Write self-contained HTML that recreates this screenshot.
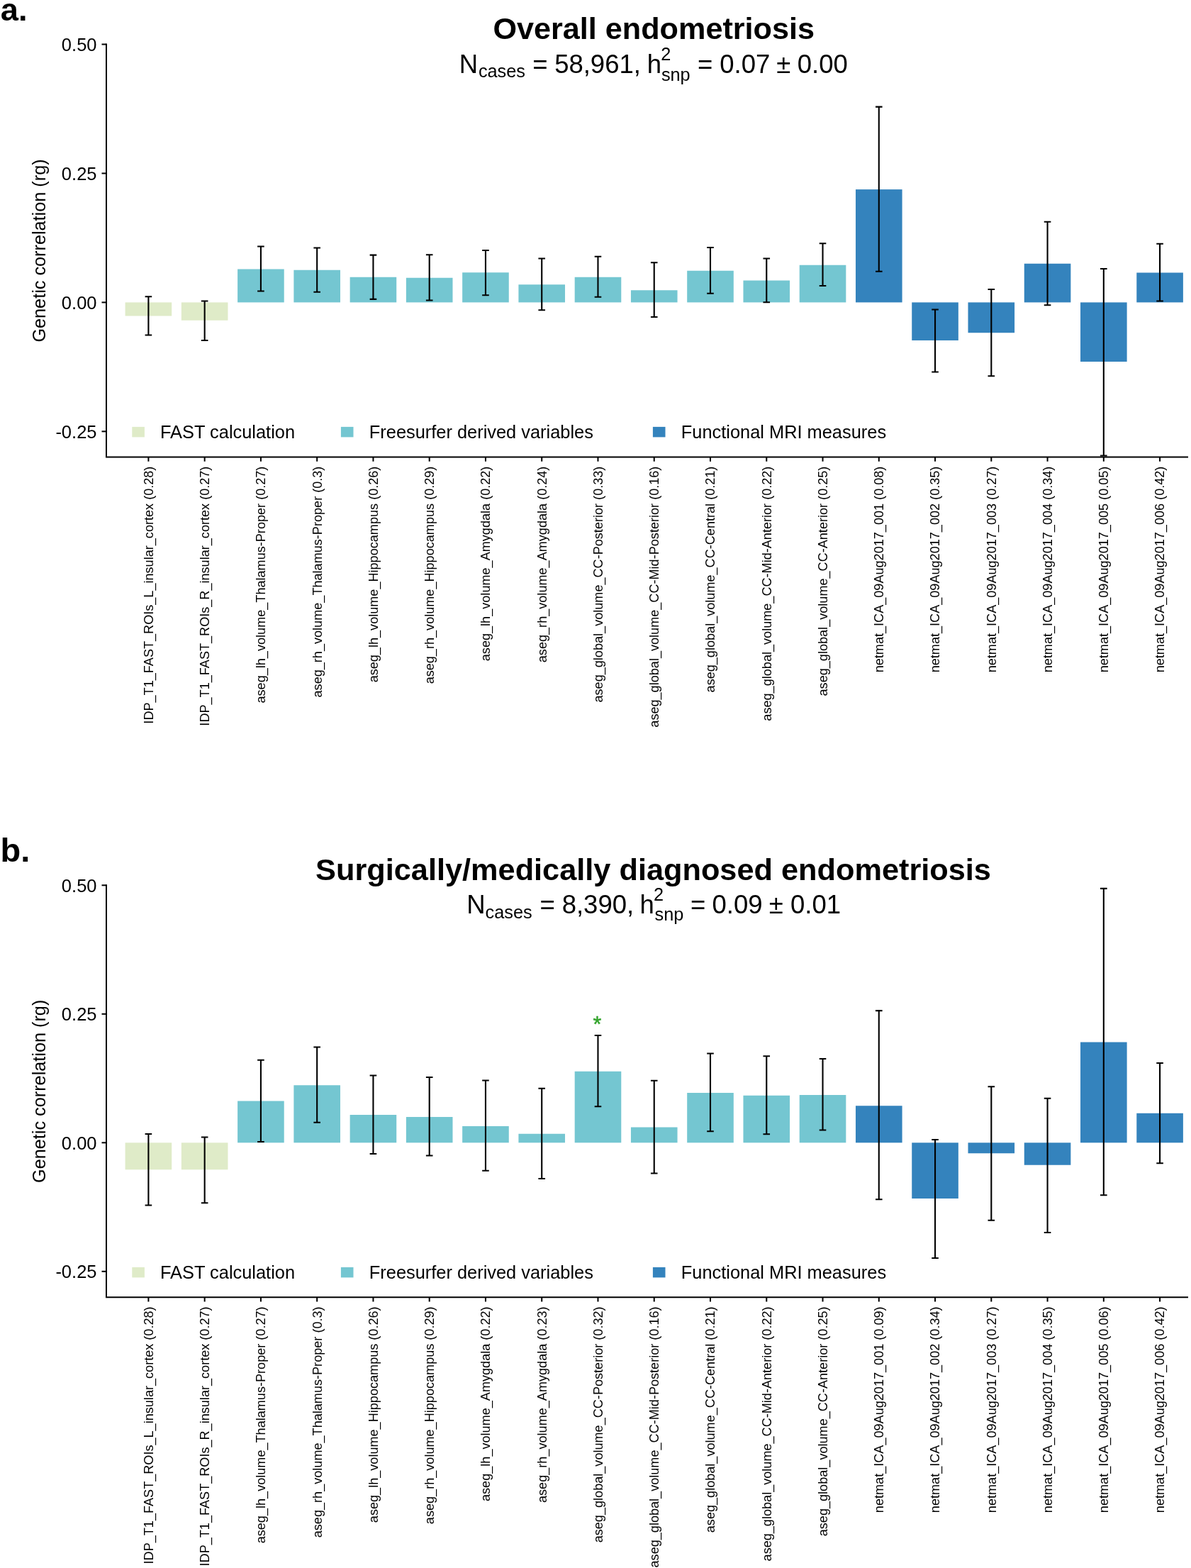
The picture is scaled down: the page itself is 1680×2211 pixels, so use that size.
<!DOCTYPE html>
<html><head><meta charset="utf-8"><title>Genetic correlation</title>
<style>html,body{margin:0;padding:0;background:#fff;}svg{display:block;}</style>
</head><body>
<svg width="1680" height="2211" viewBox="0 0 1680 2211" font-family='"Liberation Sans", Arial, Helvetica, sans-serif'>
<rect width="1680" height="2211" fill="#fff"/>
<rect x="176.60" y="426.40" width="65.60" height="19.10" fill="#DFEBC8"/>
<rect x="255.86" y="426.40" width="65.60" height="25.35" fill="#DFEBC8"/>
<rect x="335.12" y="379.50" width="65.60" height="46.90" fill="#74C6D1"/>
<rect x="414.38" y="380.75" width="65.60" height="45.65" fill="#74C6D1"/>
<rect x="493.64" y="390.75" width="65.60" height="35.65" fill="#74C6D1"/>
<rect x="572.90" y="391.75" width="65.60" height="34.65" fill="#74C6D1"/>
<rect x="652.16" y="384.25" width="65.60" height="42.15" fill="#74C6D1"/>
<rect x="731.42" y="401.25" width="65.60" height="25.15" fill="#74C6D1"/>
<rect x="810.68" y="390.75" width="65.60" height="35.65" fill="#74C6D1"/>
<rect x="889.94" y="409.25" width="65.60" height="17.15" fill="#74C6D1"/>
<rect x="969.20" y="381.75" width="65.60" height="44.65" fill="#74C6D1"/>
<rect x="1048.46" y="395.50" width="65.60" height="30.90" fill="#74C6D1"/>
<rect x="1127.72" y="373.75" width="65.60" height="52.65" fill="#74C6D1"/>
<rect x="1206.98" y="267.10" width="65.60" height="159.30" fill="#3483BD"/>
<rect x="1286.24" y="426.40" width="65.60" height="53.60" fill="#3483BD"/>
<rect x="1365.50" y="426.40" width="65.60" height="42.85" fill="#3483BD"/>
<rect x="1444.76" y="371.75" width="65.60" height="54.65" fill="#3483BD"/>
<rect x="1524.02" y="426.40" width="65.60" height="83.60" fill="#3483BD"/>
<rect x="1603.28" y="384.50" width="65.60" height="41.90" fill="#3483BD"/>
<path d="M209.40 418.25V472.50M204.60 418.25H214.20M204.60 472.50H214.20" stroke="#000" stroke-width="2.1" fill="none"/>
<path d="M288.66 424.50V480.00M283.86 424.50H293.46M283.86 480.00H293.46" stroke="#000" stroke-width="2.1" fill="none"/>
<path d="M367.92 347.50V410.50M363.12 347.50H372.72M363.12 410.50H372.72" stroke="#000" stroke-width="2.1" fill="none"/>
<path d="M447.18 349.50V411.75M442.38 349.50H451.98M442.38 411.75H451.98" stroke="#000" stroke-width="2.1" fill="none"/>
<path d="M526.44 359.60V421.90M521.64 359.60H531.24M521.64 421.90H531.24" stroke="#000" stroke-width="2.1" fill="none"/>
<path d="M605.70 359.25V423.50M600.90 359.25H610.50M600.90 423.50H610.50" stroke="#000" stroke-width="2.1" fill="none"/>
<path d="M684.96 353.00V416.25M680.16 353.00H689.76M680.16 416.25H689.76" stroke="#000" stroke-width="2.1" fill="none"/>
<path d="M764.22 364.50V437.25M759.42 364.50H769.02M759.42 437.25H769.02" stroke="#000" stroke-width="2.1" fill="none"/>
<path d="M843.48 361.75V418.75M838.68 361.75H848.28M838.68 418.75H848.28" stroke="#000" stroke-width="2.1" fill="none"/>
<path d="M922.74 370.25V447.00M917.94 370.25H927.54M917.94 447.00H927.54" stroke="#000" stroke-width="2.1" fill="none"/>
<path d="M1002.00 349.00V413.75M997.20 349.00H1006.80M997.20 413.75H1006.80" stroke="#000" stroke-width="2.1" fill="none"/>
<path d="M1081.26 364.50V426.25M1076.46 364.50H1086.06M1076.46 426.25H1086.06" stroke="#000" stroke-width="2.1" fill="none"/>
<path d="M1160.52 343.25V403.00M1155.72 343.25H1165.32M1155.72 403.00H1165.32" stroke="#000" stroke-width="2.1" fill="none"/>
<path d="M1239.78 150.60V382.75M1234.98 150.60H1244.58M1234.98 382.75H1244.58" stroke="#000" stroke-width="2.1" fill="none"/>
<path d="M1319.04 436.50V524.50M1314.24 436.50H1323.84M1314.24 524.50H1323.84" stroke="#000" stroke-width="2.1" fill="none"/>
<path d="M1398.30 408.00V530.25M1393.50 408.00H1403.10M1393.50 530.25H1403.10" stroke="#000" stroke-width="2.1" fill="none"/>
<path d="M1477.56 312.75V430.25M1472.76 312.75H1482.36M1472.76 430.25H1482.36" stroke="#000" stroke-width="2.1" fill="none"/>
<path d="M1556.82 379.00V642.50M1552.02 379.00H1561.62M1552.02 642.50H1561.62" stroke="#000" stroke-width="2.1" fill="none"/>
<path d="M1636.08 343.75V424.50M1631.28 343.75H1640.88M1631.28 424.50H1640.88" stroke="#000" stroke-width="2.1" fill="none"/>
<path d="M150 61.50V644.50M149 644.50H1676" stroke="#000" stroke-width="2" fill="none"/>
<path d="M143.5 62.50H150" stroke="#000" stroke-width="2"/>
<text x="136.5" y="71.80" font-size="25.5" text-anchor="end">0.50</text>
<path d="M143.5 244.45H150" stroke="#000" stroke-width="2"/>
<text x="136.5" y="253.75" font-size="25.5" text-anchor="end">0.25</text>
<path d="M143.5 426.40H150" stroke="#000" stroke-width="2"/>
<text x="136.5" y="435.70" font-size="25.5" text-anchor="end">0.00</text>
<path d="M143.5 608.35H150" stroke="#000" stroke-width="2"/>
<text x="136.5" y="617.65" font-size="25.5" text-anchor="end">-0.25</text>
<path d="M209.40 644.50V650.70" stroke="#000" stroke-width="2"/>
<text transform="translate(215.80,657.60) rotate(-90)" font-size="18.1" text-anchor="end">IDP_T1_FAST_ROIs_L_insular_cortex (0.28)</text>
<path d="M288.66 644.50V650.70" stroke="#000" stroke-width="2"/>
<text transform="translate(295.06,657.60) rotate(-90)" font-size="18.1" text-anchor="end">IDP_T1_FAST_ROIs_R_insular_cortex (0.27)</text>
<path d="M367.92 644.50V650.70" stroke="#000" stroke-width="2"/>
<text transform="translate(374.32,657.60) rotate(-90)" font-size="18.1" text-anchor="end">aseg_lh_volume_Thalamus-Proper (0.27)</text>
<path d="M447.18 644.50V650.70" stroke="#000" stroke-width="2"/>
<text transform="translate(453.58,657.60) rotate(-90)" font-size="18.1" text-anchor="end">aseg_rh_volume_Thalamus-Proper (0.3)</text>
<path d="M526.44 644.50V650.70" stroke="#000" stroke-width="2"/>
<text transform="translate(532.84,657.60) rotate(-90)" font-size="18.1" text-anchor="end">aseg_lh_volume_Hippocampus (0.26)</text>
<path d="M605.70 644.50V650.70" stroke="#000" stroke-width="2"/>
<text transform="translate(612.10,657.60) rotate(-90)" font-size="18.1" text-anchor="end">aseg_rh_volume_Hippocampus (0.29)</text>
<path d="M684.96 644.50V650.70" stroke="#000" stroke-width="2"/>
<text transform="translate(691.36,657.60) rotate(-90)" font-size="18.1" text-anchor="end">aseg_lh_volume_Amygdala (0.22)</text>
<path d="M764.22 644.50V650.70" stroke="#000" stroke-width="2"/>
<text transform="translate(770.62,657.60) rotate(-90)" font-size="18.1" text-anchor="end">aseg_rh_volume_Amygdala (0.24)</text>
<path d="M843.48 644.50V650.70" stroke="#000" stroke-width="2"/>
<text transform="translate(849.88,657.60) rotate(-90)" font-size="18.1" text-anchor="end">aseg_global_volume_CC-Posterior (0.33)</text>
<path d="M922.74 644.50V650.70" stroke="#000" stroke-width="2"/>
<text transform="translate(929.14,657.60) rotate(-90)" font-size="18.1" text-anchor="end">aseg_global_volume_CC-Mid-Posterior (0.16)</text>
<path d="M1002.00 644.50V650.70" stroke="#000" stroke-width="2"/>
<text transform="translate(1008.40,657.60) rotate(-90)" font-size="18.1" text-anchor="end">aseg_global_volume_CC-Central (0.21)</text>
<path d="M1081.26 644.50V650.70" stroke="#000" stroke-width="2"/>
<text transform="translate(1087.66,657.60) rotate(-90)" font-size="18.1" text-anchor="end">aseg_global_volume_CC-Mid-Anterior (0.22)</text>
<path d="M1160.52 644.50V650.70" stroke="#000" stroke-width="2"/>
<text transform="translate(1166.92,657.60) rotate(-90)" font-size="18.1" text-anchor="end">aseg_global_volume_CC-Anterior (0.25)</text>
<path d="M1239.78 644.50V650.70" stroke="#000" stroke-width="2"/>
<text transform="translate(1246.18,657.60) rotate(-90)" font-size="18.1" text-anchor="end">netmat_ICA_09Aug2017_001 (0.08)</text>
<path d="M1319.04 644.50V650.70" stroke="#000" stroke-width="2"/>
<text transform="translate(1325.44,657.60) rotate(-90)" font-size="18.1" text-anchor="end">netmat_ICA_09Aug2017_002 (0.35)</text>
<path d="M1398.30 644.50V650.70" stroke="#000" stroke-width="2"/>
<text transform="translate(1404.70,657.60) rotate(-90)" font-size="18.1" text-anchor="end">netmat_ICA_09Aug2017_003 (0.27)</text>
<path d="M1477.56 644.50V650.70" stroke="#000" stroke-width="2"/>
<text transform="translate(1483.96,657.60) rotate(-90)" font-size="18.1" text-anchor="end">netmat_ICA_09Aug2017_004 (0.34)</text>
<path d="M1556.82 644.50V650.70" stroke="#000" stroke-width="2"/>
<text transform="translate(1563.22,657.60) rotate(-90)" font-size="18.1" text-anchor="end">netmat_ICA_09Aug2017_005 (0.05)</text>
<path d="M1636.08 644.50V650.70" stroke="#000" stroke-width="2"/>
<text transform="translate(1642.48,657.60) rotate(-90)" font-size="18.1" text-anchor="end">netmat_ICA_09Aug2017_006 (0.42)</text>
<text transform="translate(64.4,353.50) rotate(-90)" font-size="25.25" text-anchor="middle">Genetic correlation (rg)</text>
<rect x="186.3" y="601.90" width="17.6" height="14.5" fill="#DFEBC8"/>
<text x="226" y="618.30" font-size="25.4">FAST calculation</text>
<rect x="480.9" y="601.90" width="17.6" height="14.5" fill="#74C6D1"/>
<text x="520.8" y="618.30" font-size="25.4">Freesurfer derived variables</text>
<rect x="920.9" y="601.90" width="17.6" height="14.5" fill="#3483BD"/>
<text x="960.8" y="618.30" font-size="25.4">Functional MRI measures</text>
<rect x="176.60" y="1611.30" width="65.60" height="37.95" fill="#DFEBC8"/>
<rect x="255.86" y="1611.30" width="65.60" height="37.95" fill="#DFEBC8"/>
<rect x="335.12" y="1552.50" width="65.60" height="58.80" fill="#74C6D1"/>
<rect x="414.38" y="1530.25" width="65.60" height="81.05" fill="#74C6D1"/>
<rect x="493.64" y="1572.00" width="65.60" height="39.30" fill="#74C6D1"/>
<rect x="572.90" y="1575.00" width="65.60" height="36.30" fill="#74C6D1"/>
<rect x="652.16" y="1588.00" width="65.60" height="23.30" fill="#74C6D1"/>
<rect x="731.42" y="1598.75" width="65.60" height="12.55" fill="#74C6D1"/>
<rect x="810.68" y="1510.75" width="65.60" height="100.55" fill="#74C6D1"/>
<rect x="889.94" y="1589.50" width="65.60" height="21.80" fill="#74C6D1"/>
<rect x="969.20" y="1541.00" width="65.60" height="70.30" fill="#74C6D1"/>
<rect x="1048.46" y="1544.75" width="65.60" height="66.55" fill="#74C6D1"/>
<rect x="1127.72" y="1544.00" width="65.60" height="67.30" fill="#74C6D1"/>
<rect x="1206.98" y="1559.25" width="65.60" height="52.05" fill="#3483BD"/>
<rect x="1286.24" y="1611.30" width="65.60" height="78.70" fill="#3483BD"/>
<rect x="1365.50" y="1611.30" width="65.60" height="14.95" fill="#3483BD"/>
<rect x="1444.76" y="1611.30" width="65.60" height="31.45" fill="#3483BD"/>
<rect x="1524.02" y="1469.50" width="65.60" height="141.80" fill="#3483BD"/>
<rect x="1603.28" y="1569.75" width="65.60" height="41.55" fill="#3483BD"/>
<path d="M209.40 1599.00V1699.50M204.60 1599.00H214.20M204.60 1699.50H214.20" stroke="#000" stroke-width="2.1" fill="none"/>
<path d="M288.66 1603.50V1696.25M283.86 1603.50H293.46M283.86 1696.25H293.46" stroke="#000" stroke-width="2.1" fill="none"/>
<path d="M367.92 1494.75V1610.00M363.12 1494.75H372.72M363.12 1610.00H372.72" stroke="#000" stroke-width="2.1" fill="none"/>
<path d="M447.18 1476.50V1582.75M442.38 1476.50H451.98M442.38 1582.75H451.98" stroke="#000" stroke-width="2.1" fill="none"/>
<path d="M526.44 1516.50V1627.00M521.64 1516.50H531.24M521.64 1627.00H531.24" stroke="#000" stroke-width="2.1" fill="none"/>
<path d="M605.70 1519.00V1629.50M600.90 1519.00H610.50M600.90 1629.50H610.50" stroke="#000" stroke-width="2.1" fill="none"/>
<path d="M684.96 1523.50V1650.75M680.16 1523.50H689.76M680.16 1650.75H689.76" stroke="#000" stroke-width="2.1" fill="none"/>
<path d="M764.22 1534.75V1662.00M759.42 1534.75H769.02M759.42 1662.00H769.02" stroke="#000" stroke-width="2.1" fill="none"/>
<path d="M843.48 1460.00V1560.25M838.68 1460.00H848.28M838.68 1560.25H848.28" stroke="#000" stroke-width="2.1" fill="none"/>
<path d="M922.74 1523.75V1654.50M917.94 1523.75H927.54M917.94 1654.50H927.54" stroke="#000" stroke-width="2.1" fill="none"/>
<path d="M1002.00 1485.50V1595.25M997.20 1485.50H1006.80M997.20 1595.25H1006.80" stroke="#000" stroke-width="2.1" fill="none"/>
<path d="M1081.26 1489.25V1599.25M1076.46 1489.25H1086.06M1076.46 1599.25H1086.06" stroke="#000" stroke-width="2.1" fill="none"/>
<path d="M1160.52 1493.00V1593.50M1155.72 1493.00H1165.32M1155.72 1593.50H1165.32" stroke="#000" stroke-width="2.1" fill="none"/>
<path d="M1239.78 1425.10V1691.25M1234.98 1425.10H1244.58M1234.98 1691.25H1244.58" stroke="#000" stroke-width="2.1" fill="none"/>
<path d="M1319.04 1607.00V1774.00M1314.24 1607.00H1323.84M1314.24 1774.00H1323.84" stroke="#000" stroke-width="2.1" fill="none"/>
<path d="M1398.30 1532.25V1720.75M1393.50 1532.25H1403.10M1393.50 1720.75H1403.10" stroke="#000" stroke-width="2.1" fill="none"/>
<path d="M1477.56 1548.75V1738.00M1472.76 1548.75H1482.36M1472.76 1738.00H1482.36" stroke="#000" stroke-width="2.1" fill="none"/>
<path d="M1556.82 1252.90V1685.25M1552.02 1252.90H1561.62M1552.02 1685.25H1561.62" stroke="#000" stroke-width="2.1" fill="none"/>
<path d="M1636.08 1499.00V1640.25M1631.28 1499.00H1640.88M1631.28 1640.25H1640.88" stroke="#000" stroke-width="2.1" fill="none"/>
<path d="M150 1247.30V1829.30M149 1829.30H1676" stroke="#000" stroke-width="2" fill="none"/>
<path d="M143.5 1248.30H150" stroke="#000" stroke-width="2"/>
<text x="136.5" y="1257.60" font-size="25.5" text-anchor="end">0.50</text>
<path d="M143.5 1429.80H150" stroke="#000" stroke-width="2"/>
<text x="136.5" y="1439.10" font-size="25.5" text-anchor="end">0.25</text>
<path d="M143.5 1611.30H150" stroke="#000" stroke-width="2"/>
<text x="136.5" y="1620.60" font-size="25.5" text-anchor="end">0.00</text>
<path d="M143.5 1792.80H150" stroke="#000" stroke-width="2"/>
<text x="136.5" y="1802.10" font-size="25.5" text-anchor="end">-0.25</text>
<path d="M209.40 1829.30V1835.50" stroke="#000" stroke-width="2"/>
<text transform="translate(215.80,1842.40) rotate(-90)" font-size="18.1" text-anchor="end">IDP_T1_FAST_ROIs_L_insular_cortex (0.28)</text>
<path d="M288.66 1829.30V1835.50" stroke="#000" stroke-width="2"/>
<text transform="translate(295.06,1842.40) rotate(-90)" font-size="18.1" text-anchor="end">IDP_T1_FAST_ROIs_R_insular_cortex (0.27)</text>
<path d="M367.92 1829.30V1835.50" stroke="#000" stroke-width="2"/>
<text transform="translate(374.32,1842.40) rotate(-90)" font-size="18.1" text-anchor="end">aseg_lh_volume_Thalamus-Proper (0.27)</text>
<path d="M447.18 1829.30V1835.50" stroke="#000" stroke-width="2"/>
<text transform="translate(453.58,1842.40) rotate(-90)" font-size="18.1" text-anchor="end">aseg_rh_volume_Thalamus-Proper (0.3)</text>
<path d="M526.44 1829.30V1835.50" stroke="#000" stroke-width="2"/>
<text transform="translate(532.84,1842.40) rotate(-90)" font-size="18.1" text-anchor="end">aseg_lh_volume_Hippocampus (0.26)</text>
<path d="M605.70 1829.30V1835.50" stroke="#000" stroke-width="2"/>
<text transform="translate(612.10,1842.40) rotate(-90)" font-size="18.1" text-anchor="end">aseg_rh_volume_Hippocampus (0.29)</text>
<path d="M684.96 1829.30V1835.50" stroke="#000" stroke-width="2"/>
<text transform="translate(691.36,1842.40) rotate(-90)" font-size="18.1" text-anchor="end">aseg_lh_volume_Amygdala (0.22)</text>
<path d="M764.22 1829.30V1835.50" stroke="#000" stroke-width="2"/>
<text transform="translate(770.62,1842.40) rotate(-90)" font-size="18.1" text-anchor="end">aseg_rh_volume_Amygdala (0.23)</text>
<path d="M843.48 1829.30V1835.50" stroke="#000" stroke-width="2"/>
<text transform="translate(849.88,1842.40) rotate(-90)" font-size="18.1" text-anchor="end">aseg_global_volume_CC-Posterior (0.32)</text>
<path d="M922.74 1829.30V1835.50" stroke="#000" stroke-width="2"/>
<text transform="translate(929.14,1842.40) rotate(-90)" font-size="18.1" text-anchor="end">aseg_global_volume_CC-Mid-Posterior (0.16)</text>
<path d="M1002.00 1829.30V1835.50" stroke="#000" stroke-width="2"/>
<text transform="translate(1008.40,1842.40) rotate(-90)" font-size="18.1" text-anchor="end">aseg_global_volume_CC-Central (0.21)</text>
<path d="M1081.26 1829.30V1835.50" stroke="#000" stroke-width="2"/>
<text transform="translate(1087.66,1842.40) rotate(-90)" font-size="18.1" text-anchor="end">aseg_global_volume_CC-Mid-Anterior (0.22)</text>
<path d="M1160.52 1829.30V1835.50" stroke="#000" stroke-width="2"/>
<text transform="translate(1166.92,1842.40) rotate(-90)" font-size="18.1" text-anchor="end">aseg_global_volume_CC-Anterior (0.25)</text>
<path d="M1239.78 1829.30V1835.50" stroke="#000" stroke-width="2"/>
<text transform="translate(1246.18,1842.40) rotate(-90)" font-size="18.1" text-anchor="end">netmat_ICA_09Aug2017_001 (0.09)</text>
<path d="M1319.04 1829.30V1835.50" stroke="#000" stroke-width="2"/>
<text transform="translate(1325.44,1842.40) rotate(-90)" font-size="18.1" text-anchor="end">netmat_ICA_09Aug2017_002 (0.34)</text>
<path d="M1398.30 1829.30V1835.50" stroke="#000" stroke-width="2"/>
<text transform="translate(1404.70,1842.40) rotate(-90)" font-size="18.1" text-anchor="end">netmat_ICA_09Aug2017_003 (0.27)</text>
<path d="M1477.56 1829.30V1835.50" stroke="#000" stroke-width="2"/>
<text transform="translate(1483.96,1842.40) rotate(-90)" font-size="18.1" text-anchor="end">netmat_ICA_09Aug2017_004 (0.35)</text>
<path d="M1556.82 1829.30V1835.50" stroke="#000" stroke-width="2"/>
<text transform="translate(1563.22,1842.40) rotate(-90)" font-size="18.1" text-anchor="end">netmat_ICA_09Aug2017_005 (0.06)</text>
<path d="M1636.08 1829.30V1835.50" stroke="#000" stroke-width="2"/>
<text transform="translate(1642.48,1842.40) rotate(-90)" font-size="18.1" text-anchor="end">netmat_ICA_09Aug2017_006 (0.42)</text>
<text transform="translate(64.4,1538.80) rotate(-90)" font-size="25.25" text-anchor="middle">Genetic correlation (rg)</text>
<rect x="186.3" y="1786.90" width="17.6" height="14.5" fill="#DFEBC8"/>
<text x="226" y="1803.30" font-size="25.4">FAST calculation</text>
<rect x="480.9" y="1786.90" width="17.6" height="14.5" fill="#74C6D1"/>
<text x="520.8" y="1803.30" font-size="25.4">Freesurfer derived variables</text>
<rect x="920.9" y="1786.90" width="17.6" height="14.5" fill="#3483BD"/>
<text x="960.8" y="1803.30" font-size="25.4">Functional MRI measures</text>
<text x="0.8" y="28.7" font-size="45.2" font-weight="bold">a.</text>
<text x="0.6" y="1214.5" font-size="46.9" font-weight="bold">b.</text>
<text x="922.2" y="55" font-size="43.2" font-weight="bold" text-anchor="middle">Overall endometriosis</text>
<text x="921.5" y="1240.6" font-size="43.3" font-weight="bold" text-anchor="middle">Surgically/medically diagnosed endometriosis</text>
<text x="647.69" y="102.80" font-size="36.5">N</text>
<text x="674.92" y="108.80" font-size="25.3">cases</text>
<text x="751.27" y="102.80" font-size="36.5">=</text>
<text x="782.14" y="102.80" font-size="36.5">58,961,</text>
<text x="912.75" y="102.80" font-size="36.5">h</text>
<text x="932.34" y="84.60" font-size="25.3">2</text>
<text x="932.90" y="113.90" font-size="25.3">snp</text>
<text x="983.88" y="102.80" font-size="36.5">=</text>
<text x="1015.24" y="102.80" font-size="36.5">0.07</text>
<text x="1095.21" y="102.80" font-size="36.5">±</text>
<text x="1124.74" y="102.80" font-size="36.5">0.00</text>
<text x="658.29" y="1288.00" font-size="36.5">N</text>
<text x="684.62" y="1294.60" font-size="25.3">cases</text>
<text x="761.47" y="1288.00" font-size="36.5">=</text>
<text x="792.65" y="1288.00" font-size="36.5">8,390,</text>
<text x="902.45" y="1288.00" font-size="36.5">h</text>
<text x="922.03" y="1269.50" font-size="25.3">2</text>
<text x="923.50" y="1298.40" font-size="25.3">snp</text>
<text x="973.88" y="1288.00" font-size="36.5">=</text>
<text x="1004.54" y="1288.00" font-size="36.5">0.09</text>
<text x="1084.81" y="1288.00" font-size="36.5">±</text>
<text x="1114.94" y="1288.00" font-size="36.5">0.01</text>
<text x="842.5" y="1455.1" font-size="30.5" fill="#35A52E" stroke="#35A52E" stroke-width="0.5" text-anchor="middle">*</text>
</svg>
</body></html>
